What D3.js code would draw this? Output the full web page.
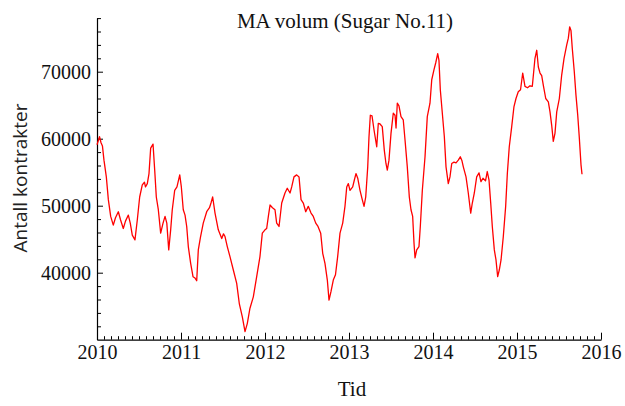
<!DOCTYPE html>
<html><head><meta charset="utf-8">
<script src="https://cdn.jsdelivr.net/npm/d3@7"></script>
<style>body{margin:0;background:#fff;} svg{display:block}</style>
</head><body>
<script>
const title = "MA volum (Sugar No.11)";
const xLabel = "Tid";
const yLabel = "Antall kontrakter";
const xTickValues = [2010, 2011, 2012, 2013, 2014, 2015, 2016];
const yTickValues = [40000, 50000, 60000, 70000];

const years = [
  2010.000,2010.018,2010.030,2010.048,2010.065,2010.083,2010.111,2010.135,2010.163,2010.194,
  2010.220,2010.254,2010.280,2010.313,2010.339,2010.373,2010.396,2010.420,2010.452,2010.480,
  2010.508,2010.539,2010.565,2010.577,2010.599,2010.619,2010.639,2010.667,2010.687,2010.706,
  2010.730,2010.758,2010.786,2010.810,2010.831,2010.854,2010.877,2010.896,2010.925,2010.952,
  2010.985,
  2011.004,2011.027,2011.048,2011.068,2011.087,2011.115,2011.143,2011.167,2011.187,2011.206,
  2011.232,2011.265,2011.306,2011.339,2011.357,2011.377,2011.405,2011.444,2011.485,2011.506,
  2011.524,2011.551,2011.583,2011.623,2011.663,2011.694,2011.730,2011.762,2011.789,2011.821,
  2011.861,2011.901,2011.940,2011.968,
  2012.000,2012.020,2012.042,2012.060,2012.089,2012.119,2012.139,2012.167,2012.199,2012.238,
  2012.265,2012.298,2012.318,2012.345,2012.377,2012.405,2012.429,2012.456,2012.485,2012.515,
  2012.548,2012.575,2012.604,2012.631,2012.663,2012.687,2012.714,2012.742,2012.762,2012.786,
  2012.813,2012.839,2012.865,2012.893,2012.925,2012.952,2012.973,2012.992,
  2013.012,2013.044,2013.063,2013.083,2013.104,2013.131,2013.158,2013.179,2013.199,2013.223,
  2013.238,2013.254,2013.274,2013.298,2013.330,2013.349,2013.369,2013.396,2013.420,2013.440,
  2013.456,2013.476,2013.500,2013.527,2013.548,2013.560,2013.575,2013.595,2013.619,2013.646,
  2013.667,2013.694,2013.718,2013.738,2013.758,2013.774,2013.786,2013.806,2013.833,2013.849,
  2013.873,2013.905,2013.932,2013.964,2013.985,
  2014.012,2014.032,2014.056,2014.071,2014.087,2014.111,2014.135,2014.155,2014.182,2014.202,
  2014.223,2014.250,2014.274,2014.301,2014.325,2014.345,2014.361,2014.393,2014.420,2014.449,
  2014.468,2014.492,2014.520,2014.548,2014.571,2014.595,2014.625,2014.646,2014.667,2014.687,
  2014.706,2014.730,2014.750,2014.770,2014.789,2014.810,2014.837,2014.865,2014.885,2014.908,
  2014.937,2014.964,2014.988,
  2015.015,2015.042,2015.068,2015.095,2015.125,2015.155,2015.182,2015.214,2015.235,2015.254,
  2015.274,2015.294,2015.313,2015.342,2015.373,2015.393,2015.413,2015.432,2015.452,2015.473,
  2015.504,2015.532,2015.560,2015.592,2015.611,2015.627,2015.643,2015.658,2015.682,2015.702,
  2015.723,2015.742,2015.762,2015.774
];

const volumes = [
  59100,59800,60300,59400,58900,56800,54300,50900,48400,47100,
  48200,49100,47900,46600,47700,48600,47400,45600,44900,47900,
  51300,53100,53500,52800,53300,54800,58600,59200,55300,51300,
  49400,45900,47400,48400,47400,43400,46400,49400,52300,52800,
  54600,
  52800,49400,48600,46900,43900,41400,39400,39200,38800,43400,
  45300,47400,49100,49700,50400,51300,48900,46400,45100,45800,
  45400,43900,42400,40400,38400,35400,33400,31200,32400,34700,
  36400,39400,42400,45900,
  46400,46600,48600,50100,49700,49400,47400,46900,50400,51900,
  52600,51900,52800,54300,54600,54300,50900,50400,49100,49900,
  48900,48400,47400,46900,45900,42900,41400,38900,35900,37200,
  38900,39700,42400,45900,47400,49900,52800,53300,
  52300,52800,53800,54800,54100,52300,50900,49900,51300,55800,
  60300,63500,63400,61300,58800,62300,62200,61800,58300,56300,
  55300,56800,60800,63800,63500,61600,65300,64900,63300,62800,
  59800,55800,51300,49400,48400,44400,42200,43400,43900,46900,
  52300,57300,63300,65300,68800,
  70300,71300,72700,71700,67300,63800,60300,55800,53300,54300,
  56300,56500,56400,56800,57300,56700,55800,54300,51900,48900,
  50400,51900,54300,54900,53600,54100,53700,55100,53800,50400,
  46900,43400,41900,39400,40400,41900,45400,49900,54800,58800,
  61800,64800,66000,
  67000,67300,69800,67800,67600,67900,67800,72000,73200,70700,
  69800,69400,68000,66000,65500,64000,62000,59600,60800,64000,
  66000,69500,72000,74000,75000,76700,76100,73500,70000,66500,
  63500,60100,56100,54700
];

const W = 625, H = 406;
const x = d3.scaleLinear().domain([2010, 2016]).range([97, 601]);
const y = d3.scaleLinear().domain([30000, 78000]).range([339.7, 18.1]);

const svg = d3.select("body").append("svg").attr("width", W).attr("height", H)
  .style("background", "#fff");

const serif = "'Liberation Serif','Times New Roman',serif";

// minor ticks
const xMinor = d3.range(0, 72).map(i => 2010 + i / 12).filter((v, i) => i % 12 !== 0);
const yMinor = d3.range(30000, 78001, 2000).filter(v => v % 10000 !== 0);

svg.append("g").attr("transform", `translate(0,${y(30000)})`)
  .call(d3.axisBottom(x).tickValues(xMinor).tickFormat("").tickSizeInner(-3.5).tickSizeOuter(0))
  .call(g => g.select(".domain").remove())
  .call(g => g.selectAll("line").attr("stroke", "#000").attr("stroke-width", 1));

svg.append("g").attr("transform", `translate(${x(2010)},0)`)
  .call(d3.axisLeft(y).tickValues(yMinor).tickFormat("").tickSizeInner(-4).tickSizeOuter(0))
  .call(g => g.select(".domain").remove())
  .call(g => g.selectAll("line").attr("stroke", "#000").attr("stroke-width", 1));

// major axes
const xAxis = svg.append("g").attr("transform", `translate(0,${y(30000)})`)
  .call(d3.axisBottom(x).tickValues(xTickValues).tickFormat(d3.format("d"))
    .tickSizeInner(-7).tickSizeOuter(0).tickPadding(5));
xAxis.select(".domain").attr("stroke", "#000").attr("stroke-width", 1.2);
xAxis.selectAll("line").attr("stroke", "#000").attr("stroke-width", 1);
xAxis.selectAll("text").attr("font-family", serif).attr("font-size", 20).attr("fill", "#111");

const yAxis = svg.append("g").attr("transform", `translate(${x(2010)},0)`)
  .call(d3.axisLeft(y).tickValues(yTickValues).tickFormat(d3.format("d"))
    .tickSizeInner(-6).tickSizeOuter(0).tickPadding(6));
yAxis.select(".domain").attr("stroke", "#000").attr("stroke-width", 1.2);
yAxis.selectAll("line").attr("stroke", "#000").attr("stroke-width", 1);
yAxis.selectAll("text").attr("font-family", serif).attr("font-size", 20).attr("fill", "#111");

// line
const data = years.map((t, i) => ({t, v: volumes[i]}));
svg.append("path").datum(data)
  .attr("fill", "none").attr("stroke", "#ff0000").attr("stroke-width", 1.3)
  .attr("stroke-linejoin", "round")
  .attr("d", d3.line().x(d => x(d.t)).y(d => y(d.v)));

// texts
svg.append("text").attr("x", 345).attr("y", 28).attr("text-anchor", "middle")
  .attr("font-family", serif).attr("font-size", 21).attr("fill", "#111").text(title);

svg.append("text").attr("x", 352).attr("y", 396).attr("text-anchor", "middle")
  .attr("font-family", serif).attr("font-size", 21).attr("fill", "#111").text(xLabel);

svg.append("text").attr("transform", "translate(27,178) rotate(-90)").attr("text-anchor", "middle")
  .attr("font-family", "'Open Sans','Noto Sans',sans-serif").attr("font-size", 19).attr("fill", "#222").text(yLabel);
</script>
</body></html>
